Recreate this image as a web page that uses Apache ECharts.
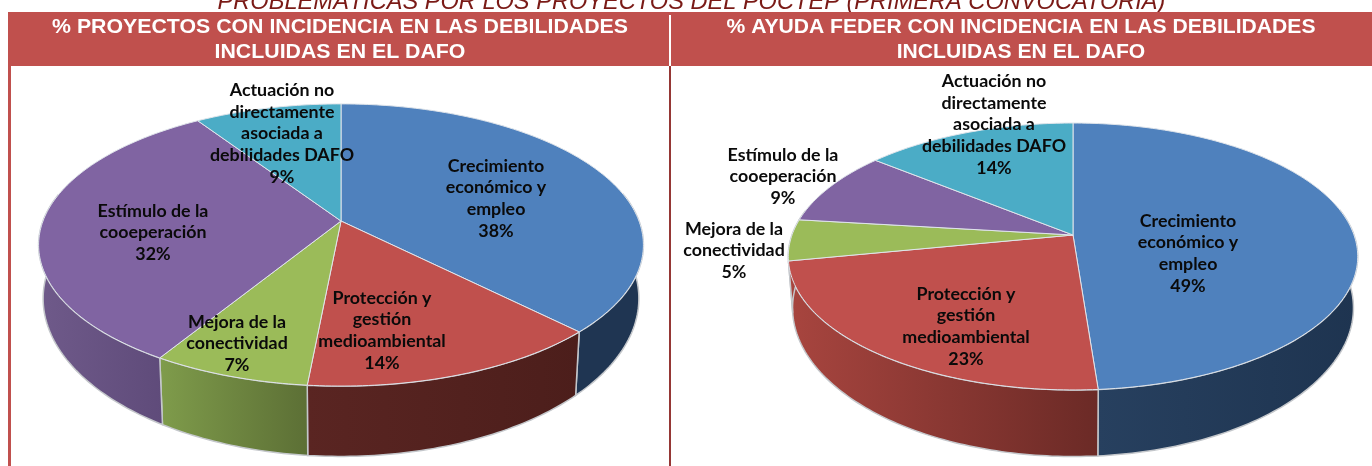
<!DOCTYPE html>
<html>
<head>
<meta charset="utf-8">
<style>html,body{margin:0;padding:0;background:#fff}#chart{width:1372px;height:466px}</style>
<script src="https://cdn.jsdelivr.net/npm/echarts@6/dist/echarts.min.js"></script>
</head>
<body>
<div id="chart"></div>
<script>
const categories = [
    'Crecimiento\neconómico y\nempleo',
    'Protección y\ngestión\nmedioambiental',
    'Mejora de la\nconectividad',
    'Estímulo de la\ncooeperación',
    'Actuación no\ndirectamente\nasociada a\ndebilidades DAFO'
];
// the labels give them rounded
const proyectosValues = [37.6, 13.9, 7.2, 32.05, 9.25];
const ayudaValues = [48.8, 23.1, 5, 9, 14.1];

const supTitle = 'PROBLEMÁTICAS POR LOS PROYECTOS DEL POCTEP (PRIMERA CONVOCATORIA)';
const leftTitle = '% PROYECTOS CON INCIDENCIA EN LAS DEBILIDADES\nINCLUIDAS EN EL DAFO';
const rightTitle = '% AYUDA FEDER CON INCIDENCIA EN LAS DEBILIDADES\nINCLUIDAS EN EL DAFO';

const topColors = ['#4f81bd', '#c0504d', '#9bbb59', '#8064a2', '#4bacc6'];

const leftPie = {
    cx: 341, cy: 221, R: 298, B: 137, k: 0.17, depth: 74,
    walls: [['#1f3552', '#1f3552'], ['#5a2522', '#4c1e1b'], ['#7f9c4b', '#5c6f35'], ['#6f5a8a', '#5f4b7a'], ['#6f5a8a', '#6f5a8a']],
    labels: [[496, 199], [382, 331], [237, 344], [153, 233], [282, 134]]
};
const rightPie = {
    cx: 1073, cy: 235, R: 281, B: 130, k: 0.161, depth: 70,
    walls: [['#27405f', '#1e3450'], ['#a8453f', '#6b2a26'], ['#a8453f', '#a8453f'], ['#a8453f', '#a8453f'], ['#a8453f', '#a8453f']],
    labels: [[1188, 254], [966, 327], [734, 251], [783, 177], [994, 125]]
};

function rimPoint(pie, frac){
    let a = frac * Math.PI * 2;
    let X = Math.sin(a), Y = -Math.cos(a);
    let s = 1 / (1 - pie.k * Y);
    let x = pie.cx + pie.R * X * s;
    let y = pie.cy + pie.B * Y * s;
    let sf = s * (1 - pie.k);
    return {
        top: [x, y],
        bottom: [pie.cx + (x - pie.cx) * 0.985, pie.cy + (y - pie.cy) * 0.978 + pie.depth * sf * sf],
        Y
    };
}

function pieSeries(pie, values){
    let total = values.reduce((a, b) => a + b, 0);
    let starts = [];
    values.reduce((acc, v, i) => { starts[i] = acc / total; return acc + v; }, 0);
    let rimOf = (i) => {
        let pts = [];
        let from = starts[i], to = starts[i] + values[i] / total;
        let n = Math.ceil((to - from) * 360);
        for ( let j = 0; j <= n; j++ ) pts.push(rimPoint(pie, from + (to - from) * j / n));
        return pts;
    };
    let wall = {
        type: 'custom',
        coordinateSystem: 'none',
        silent: true,
        z: 2,
        data: values,
        renderItem: (params) => {
            let rim = rimOf(params.dataIndex).filter(p => p.Y > -0.2);
            if ( !rim.length ) return { type: 'group', children: [] };
            let stops = pie.walls[params.dataIndex];
            return {
                type: 'polygon',
                shape: { points: rim.map(p => p.top).concat(rim.map(p => p.bottom).reverse()) },
                style: {
                    fill: { type: 'linear', x: 0, y: 0, x2: 1, y2: 0, colorStops: [{ offset: 0, color: stops[0] }, { offset: 1, color: stops[1] }] },
                    stroke: '#c4c7cb',
                    lineWidth: 1.5
                }
            };
        }
    };
    let top = {
        type: 'custom',
        coordinateSystem: 'none',
        silent: true,
        z: 3,
        data: values,
        renderItem: (params, api) => {
            let i = params.dataIndex;
            let rim = rimOf(i);
            return {
                type: 'group',
                children: [{
                    type: 'polygon',
                    shape: { points: [[pie.cx, pie.cy]].concat(rim.map(p => p.top)) },
                    style: { fill: topColors[i], stroke: '#dfe4ea', lineWidth: 1 }
                }, {
                    type: 'text',
                    z2: 50,
                    x: pie.labels[i][0],
                    y: pie.labels[i][1],
                    scaleX: 1.08,
                    style: {
                        x: 0,
                        y: 0,
                        text: categories[i] + '\n' + Math.round(api.value(0)) + '%',
                        align: 'center',
                        verticalAlign: 'middle',
                        font: 'bold 16.5px Lato',
                        lineHeight: 21.8,
                        fill: '#0a0a0a'
                    }
                }]
            };
        }
    };
    return [wall, top];
}

let myChart = echarts.init(document.getElementById('chart'));
let option = {
    animation: false,
    graphic: [
        {
            type: 'text', x: 691.5, y: 2,
            style: { text: supTitle, align: 'center', verticalAlign: 'middle', font: 'italic 23.6px "Liberation Sans"', fill: '#7a1a16' }
        },
        { type: 'rect', shape: { x: 8, y: 12, width: 1364, height: 54 }, style: { fill: '#c0504d' } },
        { type: 'rect', shape: { x: 669, y: 15, width: 2, height: 51 }, style: { fill: '#fff' } },
        { type: 'rect', shape: { x: 8, y: 66, width: 3, height: 400 }, style: { fill: '#c0504d' } },
        { type: 'rect', shape: { x: 669, y: 66, width: 2, height: 400 }, style: { fill: '#953735' } },
        {
            type: 'text', x: 340, y: 40, scaleX: 1.065,
            style: { x: 0, y: 0, text: leftTitle, align: 'center', verticalAlign: 'middle', font: 'bold 20px "Liberation Sans"', lineHeight: 25, fill: '#fff' }
        },
        {
            type: 'text', x: 1021, y: 40, scaleX: 1.055,
            style: { x: 0, y: 0, text: rightTitle, align: 'center', verticalAlign: 'middle', font: 'bold 20px "Liberation Sans"', lineHeight: 25, fill: '#fff' }
        }
    ],
    series: pieSeries(leftPie, proyectosValues).concat(pieSeries(rightPie, ayudaValues))
};
myChart.setOption(option);
</script>
</body>
</html>
